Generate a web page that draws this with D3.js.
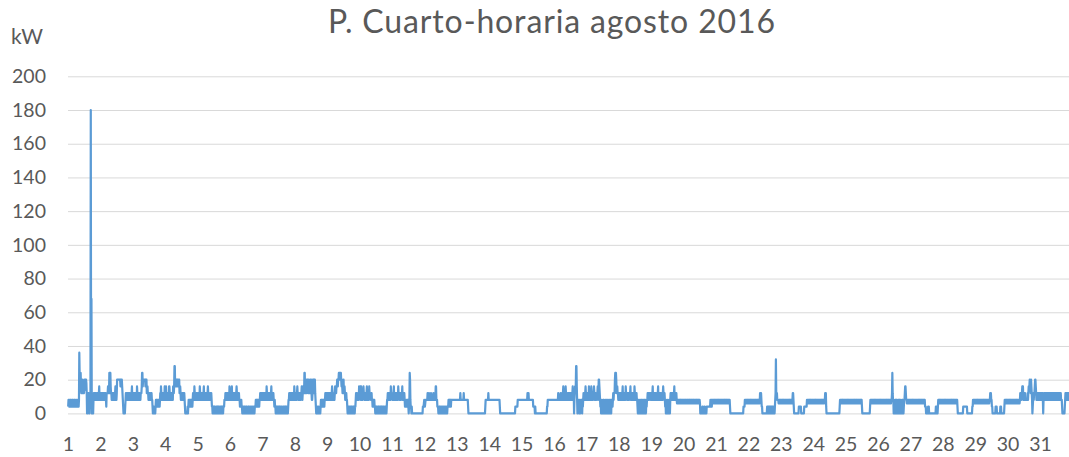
<!DOCTYPE html>
<html>
<head>
<meta charset="utf-8">
<script src="https://cdn.jsdelivr.net/npm/d3@7"></script>
<style>
  body { margin: 0; background: #fff; }
  svg text { font-family: Lato, 'Open Sans', sans-serif; fill: #595959; }
  .axis path.domain { display: none; }
  .axis.y line { stroke: #d9d9d9; stroke-width: 1; }
</style>
</head>
<body>
<div id="vis"></div>
<script>
'use strict'

//
// DATA
//

const chartTitle = 'P. Cuarto-horaria agosto 2016'
const unitLabel = 'kW'

const dayLabels = ['1', '2', '3', '4', '5', '6', '7', '8', '9', '10', '11', '12', '13', '14', '15', '16',
  '17', '18', '19', '20', '21', '22', '23', '24', '25', '26', '27', '28', '29', '30', '31']

const yTickValues = [0, 20, 40, 60, 80, 100, 120, 140, 160, 180, 200]

// one string per day, 96 quarter-hours, each char is base-36 in steps of 2 kW
const quartersPerDay = 96
const kwStep = 2
const dailyProfiles = [
  '24422424 42244242 24424224 42242442 4icacc86 68a86886 a87a8a96 00464600 46404y00 00046464 46644664 64668464',
  '64466464 46646646 42666686 66cc6c86 64646646 46468644 6aaaaaaa aaa8aaaa 86420020 02464646 64646646 46646846',
  '64646466 46648646 46466446 668cc8aa aaaaa8a8 a6686646 46644646 44200020 02024242 42244242 46486446 64646486',
  '64846464 66488646 46646648 668ee8a8 8a8aa8a8 8a668646 64646646 64200000 00202424 42442424 24646486 46646464',
  '46646486 64664644 66846646 46464686 46646646 64220202 02020002 20202020 02002020 20202224 44646646 46646486',
  '64646846 46646464 64686464 64644242 24220202 00202002 02000202 20020020 02002002 02224242 42442424 46466646',
  '64466646 46648664 64664646 46846464 64424220 20202002 02020020 20002020 02020202 00202446 46466464 64646486',
  '64646468 66446466 64668646 8686cc68 a86a8aa6 8a6886aa a6446aa8 a6aa6420 20020020 02202424 24424242 44646646',
  '64646646 66464686 46466468 66688a88 aacccacc ca8a8686 a6686464 64420202 00202002 02002020 20224646 64466486',
  '66848646 46686646 64466846 46648666 64664424 24242202 02020020 20200202 02020020 20022020 24466646 64648666',
  '64646846 64666464 64866646 66466684 64646424 42422424 2024ca42 20200000 00000000 00000000 00000000 00022234',
  '22344444 46444644 44464444 44644464 48844422 20020200 20020020 02002002 00202224 24242424 44444444 44444444',
  '44444444 44644444 44446444 44444444 42000000 00000000 00000000 00000000 00000000 00000000 00002444 44444644',
  '44444444 44444444 44444444 44444442 00000000 00000000 00000000 00000000 00000000 00000222 22224444 44444444',
  '44444444 44444444 46446444 44444444 44222220 20000000 00000000 00000000 00000000 00022444 44444444 44444444',
  '44444444 44446444 44464446 44686464 64866464 46664646 64646468 66604686 8ee84024 42042024 42404246 46646864',
  '66464648 64646486 46646686 46664466 6846aa86 42402420 24042024 02420402 42024204 20424246 4666accc a6686646',
  '66464646 46684646 46648666 46664646 66846466 46466486 64646442 04204202 40240420 24024042 04244646 64666646',
  '64668466 46646464 66468466 46664646 64686646 42402042 04202420 46466646 66468466 46643434 43443434 34434434',
  '43443434 44343443 43434434 34434344 43443434 34434344 30000002 20000220 00002222 22222224 22424444 34434344',
  '43443434 34434434 43443443 43434434 34434434 42000000 00000000 00000000 00000000 00000000 02222444 43443434',
  '43443434 34434434 43443434 44343443 43666642 20000000 00000002 22022202 22022022 02002024 6g666444 43443434',
  '43443434 34434434 43443443 43434434 34466420 00000000 00000222 22220000 00000222 22222444 43443434 34434434',
  '43443434 34434434 43443443 43434434 34466620 00000000 00000000 00000000 00000000 00000024 43443434 34434434',
  '43443434 34434434 43443443 43434434 34434434 43443434 20000000 00000000 00000000 24434434 43443434 34434434',
  '43443434 34434434 43443443 43434434 34434434 46c64404 20424042 40204240 42042024 04202446 88644344 34434434',
  '43443434 34434434 43443443 43434434 34434434 43422200 00002220 00000000 00000000 00022200 02443434 34434434',
  '43443434 34434434 43443443 43434434 34434434 43420000 00000000 00002222 22222222 00000000 00000002 24434434',
  '43443434 34434434 43443443 43434434 34434434 43446664 42200000 00002222 00000000 00222000 00000024 43443434',
  '43443434 34434434 43443443 43434434 34434666 46686846 66464444 44464688 8a886a86 40246466 8aa86464 64666464',
  '64646646 40464646 64466464 46646646 64646446 46646464 64466464 64646644 42000000 02466464 64646646 46464646'
]

// readings too tall for the day strings
const peaks = [
  { day: 1, quarter: 67, kw: 180 }
]

//
// FORMAT
//

const series = []
dailyProfiles.forEach((profile, dayIndex) => {
  profile.replace(/\s/g, '').split('').forEach((c, q) => {
    series.push({ index: dayIndex * quartersPerDay + q, kw: parseInt(c, 36) * kwStep })
  })
})
peaks.forEach(p => {
  series[(p.day - 1) * quartersPerDay + p.quarter].kw = p.kw
})

drawChart(series)

function drawChart(dataset) {

  //
  // CHART CONFIG
  //

  const totalWidth = 1069
  const totalHeight = 457
  const margin = { top: 76.3, left: 68 }
  // one day takes 32.4px, so the last day runs past the right edge, like the original
  const width = dayLabels.length * 32.4
  const height = 413.4 - margin.top

  //
  // SCALES
  //

  const x = d3.scaleLinear()
    .domain([0, dayLabels.length * quartersPerDay])
    .range([0, width])

  const y = d3.scaleLinear()
    .domain([0, 200])
    .range([height, 0])

  //
  // DRAW CHART
  //

  const svg = d3.select('div#vis')
    .append('svg')
      .attr('width', totalWidth)
      .attr('height', totalHeight)

  svg // title
    .append('text')
      .attr('x', 551.5)
      .attr('y', 33)
      .attr('text-anchor', 'middle')
      .attr('textLength', 447)
      .attr('lengthAdjust', 'spacing')
      .style('font-size', '32px')
      .text(chartTitle)

  svg // unit label
    .append('text')
      .attr('x', 11)
      .attr('y', 44)
      .style('font-size', '21px')
      .text(unitLabel)

  const innerChart = svg
    .append('g')
      .attr('transform', 'translate(' + margin.left + ',' + margin.top + ')')

  //
  // Y AXIS & GRID
  //

  const yAxis = d3.axisLeft(y)
    .tickValues(yTickValues)
    .tickSize(-(totalWidth - margin.left))
    .tickPadding(22)

  innerChart.append('g')
    .classed('axis', true)
    .classed('y', true)
    .call(yAxis)
    .call(g => g.selectAll('text').style('font-size', '19.5px').attr('fill', null))

  //
  // X AXIS
  //

  const xAxis = d3.axisBottom(x)
    .tickValues(dayLabels.map((d, i) => i * quartersPerDay))
    .tickFormat((v, i) => dayLabels[i])
    .tickSize(0)
    .tickPadding(23.5)

  innerChart.append('g')
    .classed('axis', true)
    .classed('x', true)
    .attr('transform', 'translate(0,' + height + ')')
    .call(xAxis)
    .call(g => g.selectAll('text').style('font-size', '19.5px').attr('fill', null))

  //
  // DRAW DATA
  //

  const line = d3.line()
    .x(d => x(d.index + 0.5))
    .y(d => y(d.kw))

  innerChart
    .append('path')
      .datum(dataset)
      .attr('fill', 'none')
      .attr('stroke', '#5b9bd5')
      .attr('stroke-width', 2.2)
      .attr('stroke-linejoin', 'round')
      .attr('d', line)

}
</script>
</body>
</html>
